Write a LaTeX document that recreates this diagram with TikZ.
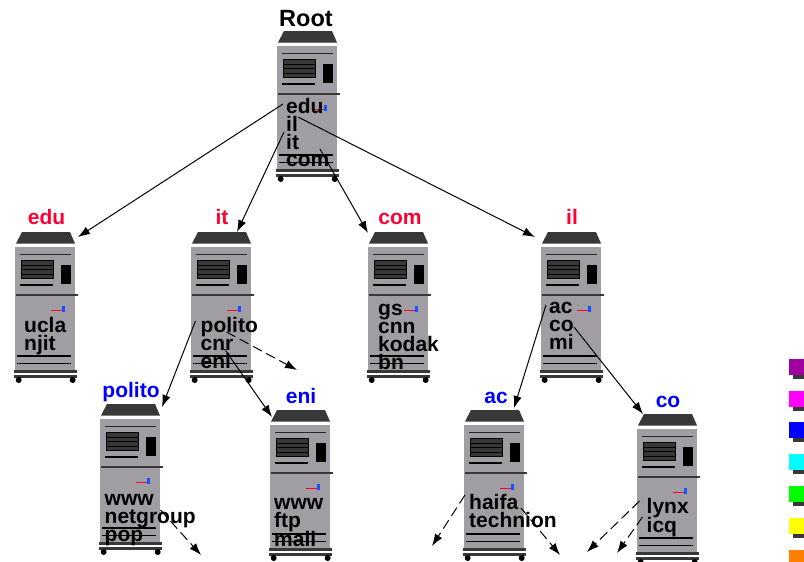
\documentclass[tikz,border=0pt]{standalone}
\usepackage{fontspec}
\setmainfont{Liberation Sans}
\usetikzlibrary{arrows.meta}
\definecolor{srvgray}{RGB}{160,158,163}
\definecolor{srvdark}{RGB}{56,56,56}
\definecolor{tagred}{RGB}{255,0,51}
\definecolor{flagblue}{RGB}{25,80,255}
\definecolor{stripviolet}{RGB}{160,0,160}
\definecolor{stripmagenta}{RGB}{255,0,255}
\definecolor{stripblue}{RGB}{0,0,255}
\definecolor{stripcyan}{RGB}{0,255,255}
\definecolor{stripgreen}{RGB}{0,255,0}
\definecolor{stripyellow}{RGB}{255,255,0}
\definecolor{striporange}{RGB}{255,128,0}
\tikzstyle{entry}=[anchor=base west, inner sep=0pt, text=black, font=\bfseries\fontsize{21}{21}\selectfont]
\tikzstyle{tag}=[anchor=base, inner sep=0pt, font=\bfseries\fontsize{21}{21}\selectfont]
\tikzstyle{body}=[anchor=north west, fill=srvgray, inner sep=0pt, minimum width=60pt, minimum height=124pt]
\tikzset{link/.style={-{Latex[length=12pt,width=8.5pt]}, line width=1pt},
  deadlink/.style={link, dash pattern=on 10pt off 5pt}}
% one server, #1 name, (#2,#3) top left of its body
\newcommand{\server}[3]{
  \node[body] (#1) at (#2,#3) {};
  \begin{scope}[shift={(#2,#3)}]
    \coordinate (#1-roof) at (31,-15);
    \fill[srvdark] (1,-3.5) -- (7,-15) -- (55,-15) -- (60,-3.5) -- cycle;
    \draw[line width=1.3pt, black!85] (4.5,7.7) -- (55.5,7.7);
    \draw[fill=srvdark, draw=black, line width=0.8pt] (6,13.5) rectangle (38,31);
    \draw[black, line width=0.8pt] (6,18) -- (38,18) (6,22.5) -- (38,22.5) (6,27) -- (38,27);
    \draw[black, line width=2.4pt] (5,38) -- (38,38);
    \fill[black] (46,18) rectangle (56,37);
    \draw[srvdark, line width=1.3pt] (1,48) -- (63,48);
    \draw[tagred, line width=0.9pt] (36,63.5) -- (47,63.5);
    \fill[flagblue] (47,59) rectangle (50,64.5);
    \draw[black, line width=1.5pt] (2,109) -- (55.5,109) (2,116.5) -- (55.5,116.5);
    \fill[srvdark] (-1.5,123) rectangle (62,125.5);
    \fill[white] (-2,125.5) rectangle (63,128);
    \fill[srvdark] (-1.5,128) rectangle (62,130.5);
    \fill[black] (3.7,133) circle (3) (57.7,133) circle (3);
  \end{scope}
}

\begin{document}
\begin{tikzpicture}[x=1pt, y=-1pt]
  \useasboundingbox (0,0) rectangle (804,562);
  \server{root}{277}{46}
  \server{edu}{15}{247}
  \server{it}{191}{247}
  \server{com}{368}{247}
  \server{il}{541}{247}
  \server{polito}{100}{419}
  \server{eni}{270}{425}
  \server{ac}{464}{425}
  \server{co}{637}{429}
  % names above the servers
  \node[tag, text=black, font=\bfseries\fontsize{23.5}{24}\selectfont] (root-tag) at (306,26) {Root};
  \node[tag, text=tagred] (edu-tag) at (46.5,224) {edu};
  \node[tag, text=tagred] (it-tag) at (222,224) {it};
  \node[tag, text=tagred] (com-tag) at (400,224) {com};
  \node[tag, text=tagred] (il-tag) at (572,224) {il};
  \node[tag, text=blue] (polito-tag) at (131,397) {polito};
  \node[tag, text=blue] (eni-tag) at (301,403) {eni};
  \node[tag, text=blue] (ac-tag) at (496,403) {ac};
  \node[tag, text=blue] (co-tag) at (668,407) {co};
  % zone entries
  \node[entry] (root-edu) at (286,113) {edu};
  \node[entry] (root-il) at (286,131) {il};
  \node[entry] (root-it) at (286,149) {it};
  \node[entry] (root-com) at (286,166) {com};
  \node[entry] (edu-ucla) at (24,332) {ucla};
  \node[entry] (edu-njit) at (24,350) {njit};
  \node[entry] (it-polito) at (200.5,332) {polito};
  \node[entry] (it-cnr) at (200.5,350) {cnr};
  \node[entry] (it-eni) at (200.5,368) {eni};
  \node[entry] (com-gs) at (378,315) {gs};
  \node[entry] (com-cnn) at (378,333) {cnn};
  \node[entry] (com-kodak) at (378,351) {kodak};
  \node[entry] (com-bn) at (378,369) {bn};
  \node[entry] (il-ac) at (549,313) {ac};
  \node[entry] (il-co) at (549,331) {co};
  \node[entry] (il-mi) at (549,349) {mi};
  \node[entry] (polito-www) at (104.5,505) {www};
  \node[entry] (polito-netgroup) at (104.5,523) {netgroup};
  \node[entry] (polito-pop) at (104.5,541) {pop};
  \node[entry] (eni-www) at (274,509) {www};
  \node[entry] (eni-ftp) at (274,527) {ftp};
  \node[entry] (eni-mail) at (274,546) {mail};
  \node[entry] (ac-haifa) at (469,509) {haifa};
  \node[entry] (ac-technion) at (469,527) {technion};
  \node[entry] (co-lynx) at (646.5,513) {lynx};
  \node[entry] (co-icq) at (646.5,532) {icq};
  % loose ends of the dashed arrows
  \coordinate (it-free) at (297,370);
  \coordinate (polito-free) at (201,555);
  \coordinate (ac-freea) at (432,546);
  \coordinate (ac-freeb) at (560,555);
  \coordinate (co-freea) at (587,552);
  \coordinate (co-freeb) at (617,553);
  \draw[link] ([shift={(-3,-9)}]root-edu.base west) -- ([shift={(32,5)}]edu-roof);
  \draw[link] ([shift={(-2,-17)}]root-it.base west) -- ([shift={(15,0)}]it-roof);
  \draw[link] ([shift={(34,-17)}]root-com.base west) -- ([shift={(-31,1)}]com-roof);
  \draw[link] ([shift={(12,-14)}]root-il.base west) -- ([shift={(-37,5)}]il-roof);
  \draw[link] ([shift={(-5,-11)}]it-polito.base west) -- ([shift={(31,3)}]polito-roof);
  \draw[link] ([shift={(24,-1)}]it-cnr.base west) -- ([shift={(-29,7)}]eni-roof);
  \draw[link] ([shift={(-3,-8)}]il-ac.base west) -- ([shift={(19,-2)}]ac-roof);
  \draw[link] ([shift={(25,-4)}]il-co.base west) -- ([shift={(-25,0)}]co-roof);
  \draw[deadlink] ([shift={(26,0)}]it-polito.base west) -- (it-free);
  \draw[deadlink] ([shift={(56,-13)}]polito-netgroup.base west) -- (polito-free);
  \draw[deadlink] ([shift={(-4,-14)}]ac-haifa.base west) -- (ac-freea);
  \draw[deadlink] ([shift={(52,-1)}]ac-haifa.base west) -- (ac-freeb);
  \draw[deadlink] ([shift={(-7,-12)}]co-lynx.base west) -- (co-freea);
  \draw[deadlink] ([shift={(-4,-15)}]co-icq.base west) -- (co-freeb);
  % colour strip at the right edge
  \foreach \col/\ypos in {stripviolet/359, stripmagenta/391, stripblue/422, stripcyan/454, stripgreen/486, stripyellow/518}{
    \fill[srvdark] (793,\ypos+16) rectangle (804,\ypos+20);
    \fill[\col] (789,\ypos) rectangle (804,\ypos+16);
  }
  \fill[striporange] (789,550) rectangle (804,562);
\end{tikzpicture}
\end{document}
